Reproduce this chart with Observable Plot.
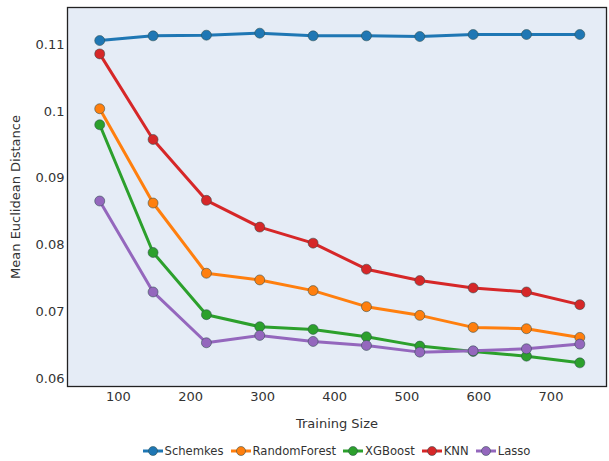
<!DOCTYPE html>
<html>
<head>
<meta charset="utf-8">
<script src="https://cdn.jsdelivr.net/npm/d3@7"></script>
<script src="https://cdn.jsdelivr.net/npm/@observablehq/plot@0.6"></script>
<style>
  html, body { margin: 0; padding: 0; background: #fff; }
  body { width: 609px; height: 461px; overflow: hidden; font-family: "DejaVu Sans", Verdana, sans-serif; }
  #legend { display: flex; justify-content: center; align-items: center; width: 609px; box-sizing: border-box; padding-left: 64px; height: 25px; padding-top: 4px; font-size: 11.6px; color: #333; }
  .item { display: flex; align-items: center; margin: 0 3.5px; }
  .item span { margin-left: 2px; }
</style>
</head>
<body>
<div id="chart"></div>
<div id="legend"></div>
<script>
const trainingSize = [74, 148, 222, 296, 370, 444, 518, 592, 666, 740];
const seriesNames = ["Schemkes", "RandomForest", "XGBoost", "KNN", "Lasso"];
const seriesColors = ["#1f77b4", "#ff7f0e", "#2ca02c", "#d62728", "#9467bd"];
const schemkes     = [0.1106, 0.1113, 0.1114, 0.1117, 0.1113, 0.1113, 0.1112, 0.1115, 0.1115, 0.1115];
const randomForest = [0.1004, 0.0863, 0.0758, 0.0748, 0.0732, 0.0708, 0.0695, 0.0677, 0.0675, 0.0662];
const xgboost      = [0.0980, 0.0789, 0.0696, 0.0678, 0.0674, 0.0663, 0.0649, 0.0641, 0.0634, 0.0624];
const knn          = [0.1086, 0.0958, 0.0867, 0.0827, 0.0803, 0.0764, 0.0747, 0.0736, 0.0730, 0.0711];
const lasso        = [0.0866, 0.0730, 0.0654, 0.0665, 0.0656, 0.0650, 0.0640, 0.0642, 0.0645, 0.0652];
const xTicks = [100, 200, 300, 400, 500, 600, 700];
const yTicks = [0.06, 0.07, 0.08, 0.09, 0.1, 0.11];

const seriesValues = [schemkes, randomForest, xgboost, knn, lasso];
const tables = seriesNames.map((name, i) =>
  trainingSize.map((x, j) => ({series: name, x, y: seriesValues[i][j]})));

const marks = [
  Plot.frame({fill: "#E5ECF6"})
];
tables.forEach(t => {
  marks.push(Plot.line(t, {x: "x", y: "y", stroke: "series", strokeWidth: 3}));
  marks.push(Plot.dot(t, {x: "x", y: "y", fill: "series", r: 5, stroke: "rgba(47,79,79,0.55)", strokeWidth: 1}));
});
marks.push(Plot.frame({stroke: "#222", strokeWidth: 1.3}));
marks.push(Plot.axisX({ticks: xTicks, tickSize: 0, tickPadding: 5, label: "Training Size", labelAnchor: "center", labelArrow: "none", labelOffset: 41, fontSize: 13}));
marks.push(Plot.axisY({ticks: yTicks, tickSize: 0, tickPadding: 3, tickFormat: d => String(+d.toFixed(2)), label: "Mean Euclidean Distance", labelAnchor: "center", labelArrow: "none", labelOffset: 57, fontSize: 13}));

const chart = Plot.plot({
  width: 609,
  height: 436,
  marginLeft: 67,
  marginRight: 3,
  marginTop: 7,
  marginBottom: 50,
  style: {fontFamily: "DejaVu Sans, Verdana, sans-serif", fontSize: "13px", color: "#333", background: "#fff"},
  x: {domain: [29.3, 777]},
  y: {domain: [0.05886, 0.11554]},
  color: {domain: seriesNames, range: seriesColors},
  marks
});
document.getElementById("chart").appendChild(chart);

const legend = document.getElementById("legend");
seriesNames.forEach((name, i) => {
  const item = document.createElement("div");
  item.className = "item";
  item.innerHTML = `<svg width="20" height="12"><line x1="0" y1="6" x2="20" y2="6" stroke="${seriesColors[i]}" stroke-width="3"/><circle cx="10" cy="6" r="4.5" fill="${seriesColors[i]}" stroke="rgba(47,79,79,0.55)" stroke-width="1"/></svg><span>${name}</span>`;
  legend.appendChild(item);
});
</script>
</body>
</html>
